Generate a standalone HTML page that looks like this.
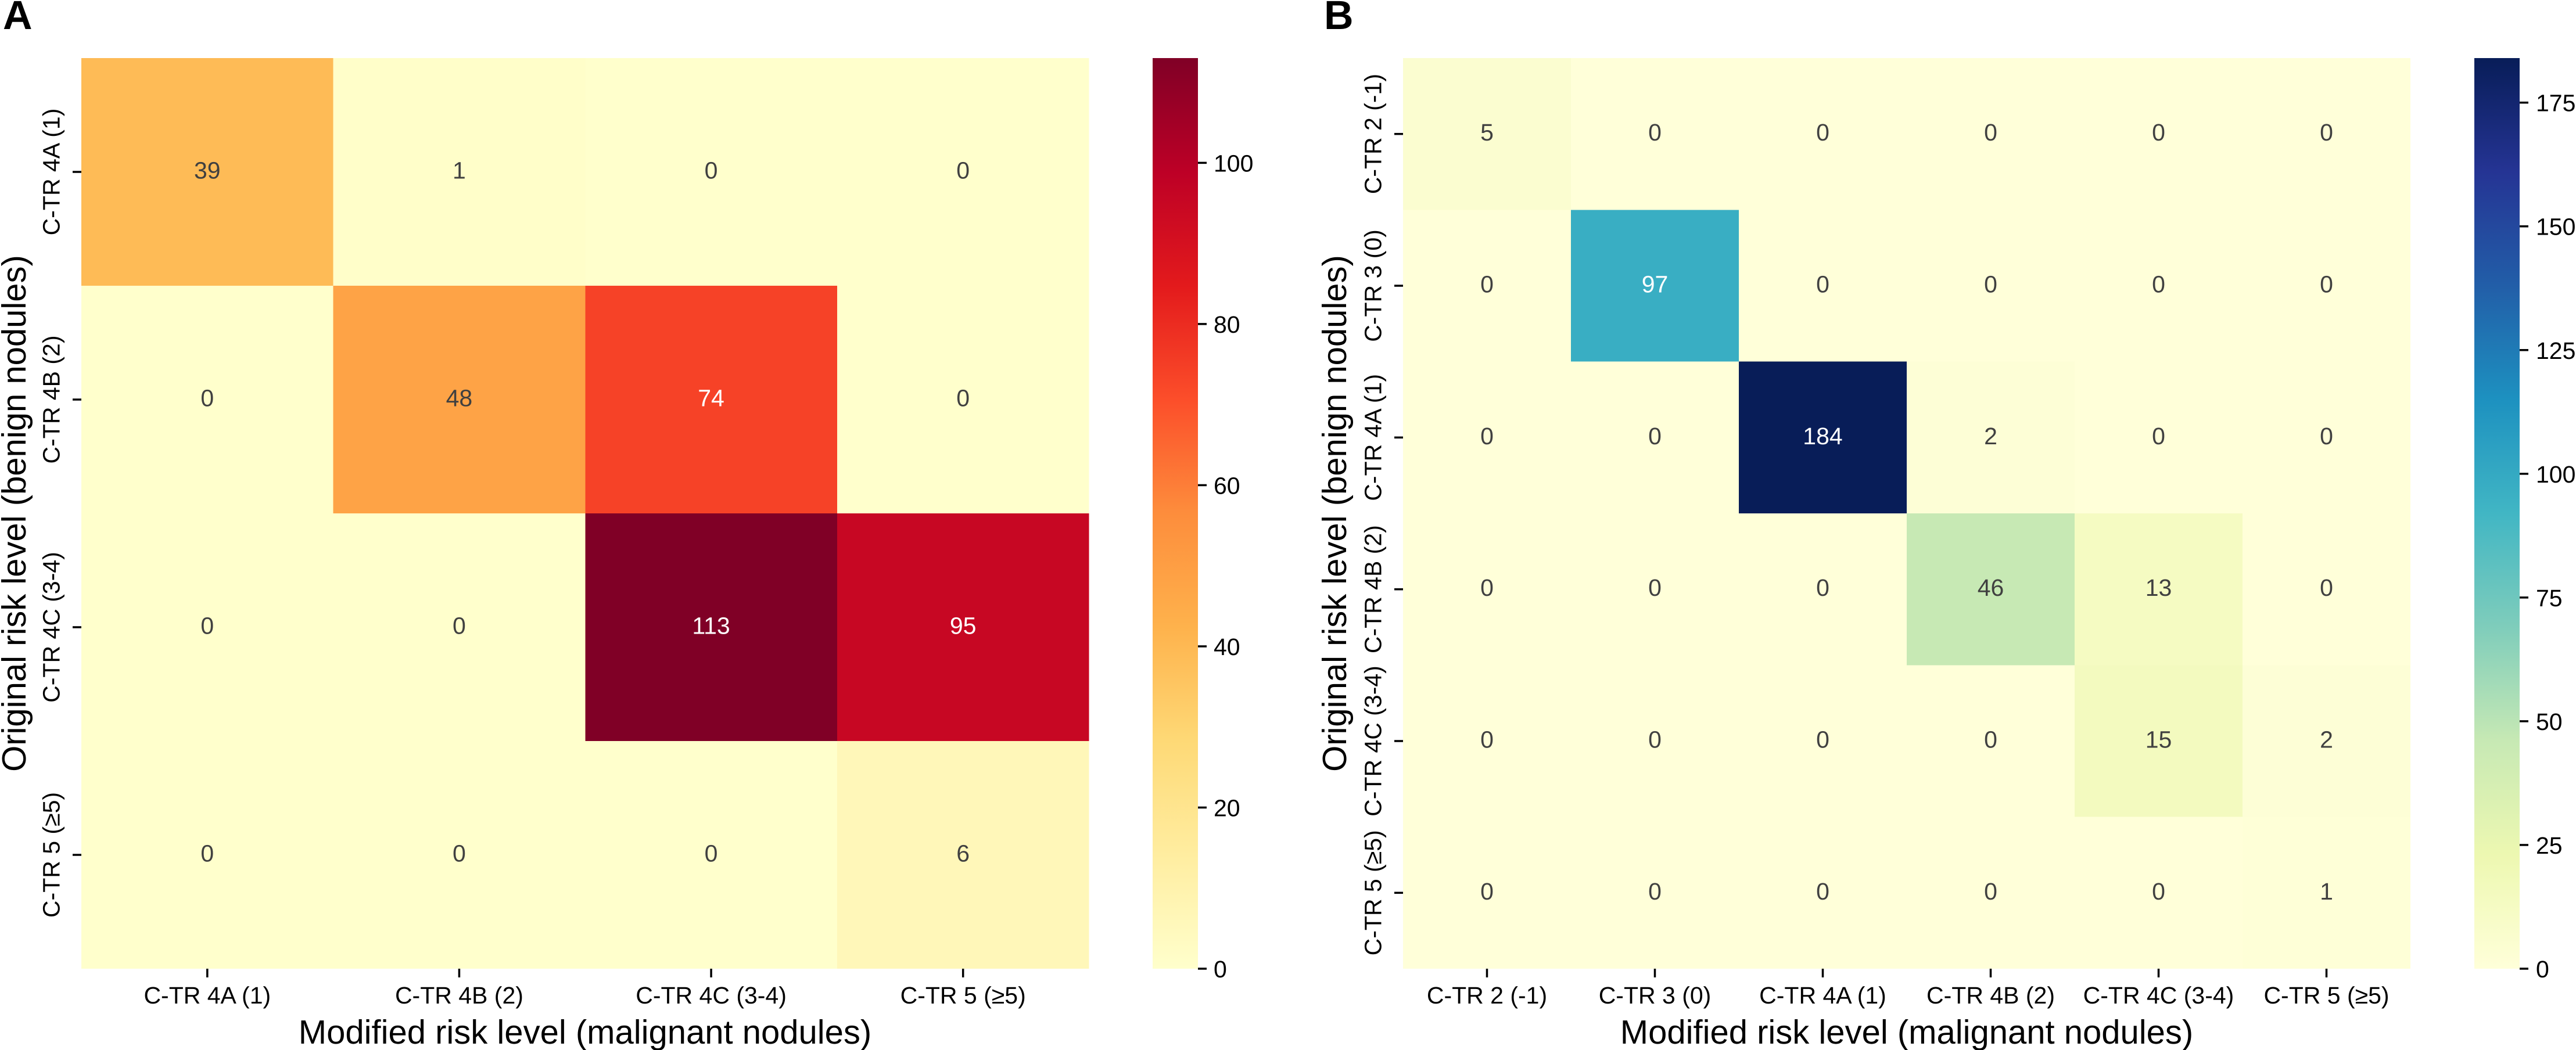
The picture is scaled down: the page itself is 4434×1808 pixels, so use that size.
<!DOCTYPE html>
<html lang="en">
<head>
<meta charset="utf-8">
<title>Risk level reclassification heatmaps</title>
<style>
  html, body { margin: 0; padding: 0; background: #ffffff; }
  body { width: 4434px; height: 1808px; overflow: hidden; }
  svg { display: block; }
  text { font-family: "Liberation Sans", "Noto Sans CJK SC", sans-serif; text-rendering: geometricPrecision; }
  .panel-letter { font-size: 70px; font-weight: 700; }
  .axis-title { font-size: 58px; text-anchor: middle; }
  .tick-label { font-size: 41px; }
  .cell-value { font-size: 41px; text-anchor: middle; }
</style>
</head>
<body>
<svg id="figure" width="4434" height="1808" viewBox="0 0 4434 1808">
  <rect x="0" y="0" width="4434" height="1808" fill="#ffffff"/>
  <defs id="gradient-defs"></defs>

  <text class="panel-letter" x="5" y="50" fill="#000000">A</text>
  <text class="panel-letter" x="2279" y="50" fill="#000000">B</text>

  <g id="panel-a"></g>
  <g id="panel-b"></g>

  <text class="axis-title" x="1007" y="1797" fill="#000000">Modified risk level (malignant nodules)</text>
  <text class="axis-title" transform="translate(44 884) rotate(-90)" fill="#000000">Original risk level (benign nodules)</text>
  <text class="axis-title" x="3282" y="1797" fill="#000000">Modified risk level (malignant nodules)</text>
  <text class="axis-title" transform="translate(2317 884) rotate(-90)" fill="#000000">Original risk level (benign nodules)</text>
</svg>

<script>
// ---- Panel A data ----
const panelARowLabels = ["C-TR 4A (1)", "C-TR 4B (2)", "C-TR 4C (3-4)", "C-TR 5 (≥5)"];
const panelAColLabels = ["C-TR 4A (1)", "C-TR 4B (2)", "C-TR 4C (3-4)", "C-TR 5 (≥5)"];
const panelARow1 = [39, 1, 0, 0];
const panelARow2 = [0, 48, 74, 0];
const panelARow3 = [0, 0, 113, 95];
const panelARow4 = [0, 0, 0, 6];
const panelAColorbarTicks = [0, 20, 40, 60, 80, 100];

// ---- Panel B data ----
const panelBRowLabels = ["C-TR 2 (-1)", "C-TR 3 (0)", "C-TR 4A (1)", "C-TR 4B (2)", "C-TR 4C (3-4)", "C-TR 5 (≥5)"];
const panelBColLabels = ["C-TR 2 (-1)", "C-TR 3 (0)", "C-TR 4A (1)", "C-TR 4B (2)", "C-TR 4C (3-4)", "C-TR 5 (≥5)"];
const panelBRow1 = [5, 0, 0, 0, 0, 0];
const panelBRow2 = [0, 97, 0, 0, 0, 0];
const panelBRow3 = [0, 0, 184, 2, 0, 0];
const panelBRow4 = [0, 0, 0, 46, 13, 0];
const panelBRow5 = [0, 0, 0, 0, 15, 2];
const panelBRow6 = [0, 0, 0, 0, 0, 1];
const panelBColorbarTicks = [0, 25, 50, 75, 100, 125, 150, 175];

// ---- Colour maps (ColorBrewer) ----
const ylOrRdStops = ["#ffffcc", "#ffeda0", "#fed976", "#feb24c", "#fd8d3c", "#fc4e2a", "#e31a1c", "#bd0026", "#800026"];
const ylGnBuStops = ["#ffffd9", "#edf8b1", "#c7e9b4", "#7fcdbb", "#41b6c4", "#1d91c0", "#225ea8", "#253494", "#081d58"];

const figureSvg = document.getElementById("figure");
const svgNamespace = figureSvg.namespaceURI;

function hexToRgb(hex) {
  return [parseInt(hex.slice(1, 3), 16), parseInt(hex.slice(3, 5), 16), parseInt(hex.slice(5, 7), 16)];
}

function sampleColormap(stops, t) {
  const clamped = Math.max(0, Math.min(1, t));
  const pos = clamped * (stops.length - 1);
  const i = Math.min(Math.floor(pos), stops.length - 2);
  const f = pos - i;
  const a = hexToRgb(stops[i]);
  const b = hexToRgb(stops[i + 1]);
  return [0, 1, 2].map(function (k) { return Math.round(a[k] + (b[k] - a[k]) * f); });
}

function relativeLuminance(rgb) {
  const lin = rgb.map(function (v) {
    const s = v / 255;
    return s <= 0.03928 ? s / 12.92 : Math.pow((s + 0.055) / 1.055, 2.4);
  });
  return 0.2126 * lin[0] + 0.7152 * lin[1] + 0.0722 * lin[2];
}

function makeNode(tag, attrs, parent) {
  const node = document.createElementNS(svgNamespace, tag);
  Object.keys(attrs).forEach(function (k) { node.setAttribute(k, String(attrs[k])); });
  parent.appendChild(node);
  return node;
}

function renderPanel(cfg) {
  const root = document.getElementById(cfg.id);
  const nRows = cfg.rows.length;
  const nCols = cfg.cols.length;
  const maxValue = Math.max.apply(null, cfg.rows.map(function (r) { return Math.max.apply(null, r); }));

  // Axis functions
  const xBand = function (c) { return cfg.left + c * (cfg.right - cfg.left) / nCols; };
  const yBand = function (r) { return cfg.top + r * (cfg.bottom - cfg.top) / nRows; };
  const xCenter = function (c) { return xBand(c + 0.5); };
  const yCenter = function (r) { return yBand(r + 0.5); };
  const colorbarY = function (v) { return cfg.bottom - (v / maxValue) * (cfg.bottom - cfg.top); };

  // Cells
  cfg.rows.forEach(function (rowValues, r) {
    rowValues.forEach(function (value, c) {
      const rgb = sampleColormap(cfg.cmap, value / maxValue);
      const cell = makeNode("rect", {
        x: xBand(c), y: yBand(r),
        width: xBand(c + 1) - xBand(c), height: yBand(r + 1) - yBand(r),
        fill: "rgb(" + rgb.join(",") + ")",
        "shape-rendering": "crispEdges"
      }, root);
      
      
    });
  });

  // Printed values
  cfg.rows.forEach(function (rowValues, r) {
    rowValues.forEach(function (value, c) {
      const rgb = sampleColormap(cfg.cmap, value / maxValue);
      const valueText = makeNode("text", {
        x: xCenter(c), y: yCenter(r) + 11.5, "class": "cell-value",
        fill: relativeLuminance(rgb) < 0.408 ? "#ffffff" : "#404040"
      }, root);
      valueText.textContent = String(value);
      
      
    });
  });

  // X axis ticks and labels
  cfg.cols.forEach(function (name, c) {
    const xTick = makeNode("rect", { x: xCenter(c) - 1.75, y: cfg.bottom, width: 3.5, height: 15, fill: "#000000" }, root);
    
    
    const xLabel = makeNode("text", { x: xCenter(c), y: 1728, "class": "tick-label", "text-anchor": "middle", fill: "#000000" }, root);
    xLabel.textContent = name;
    
    
  });

  // Y axis ticks and labels
  cfg.rowLabels.forEach(function (name, r) {
    const yTick = makeNode("rect", { x: cfg.left - 15, y: yCenter(r) - 1.75, width: 15, height: 3.5, fill: "#000000" }, root);
    
    
    const yLabel = makeNode("text", {
      "class": "tick-label", "text-anchor": "middle", fill: "#000000",
      transform: "translate(" + (cfg.left - 37.5) + " " + yCenter(r) + ") rotate(-90)"
    }, root);
    yLabel.textContent = name;
    
    
  });

  // Colorbar
  const defsNode = document.getElementById("gradient-defs");
  const gradient = makeNode("linearGradient", { id: cfg.prefix + "-gradient", x1: 0, y1: 1, x2: 0, y2: 0 }, defsNode);
  cfg.cmap.forEach(function (color, i) {
    makeNode("stop", { offset: i / (cfg.cmap.length - 1), "stop-color": color }, gradient);
  });
  const bar = makeNode("rect", {
    x: cfg.barLeft, y: cfg.top, width: cfg.barRight - cfg.barLeft, height: cfg.bottom - cfg.top,
    fill: "url(#" + cfg.prefix + "-gradient)"
  }, root);
  
  

  cfg.barTicks.forEach(function (value) {
    const barTick = makeNode("rect", { x: cfg.barRight, y: colorbarY(value) - 1.75, width: 15, height: 3.5, fill: "#000000" }, root);
    
    
    const barLabel = makeNode("text", { x: cfg.barRight + cfg.barLabelGap, y: colorbarY(value) + 15, "class": "tick-label", fill: "#000000" }, root);
    barLabel.textContent = String(value);
    
    
  });
}

renderPanel({
  id: "panel-a", prefix: "panel-a",
  rows: [panelARow1, panelARow2, panelARow3, panelARow4],
  rowLabels: panelARowLabels, cols: panelAColLabels,
  barTicks: panelAColorbarTicks, cmap: ylOrRdStops,
  left: 140, right: 1874.5, top: 100, bottom: 1668,
  barLeft: 1984, barRight: 2062, barLabelGap: 27
});

renderPanel({
  id: "panel-b", prefix: "panel-b",
  rows: [panelBRow1, panelBRow2, panelBRow3, panelBRow4, panelBRow5, panelBRow6],
  rowLabels: panelBRowLabels, cols: panelBColLabels,
  barTicks: panelBColorbarTicks, cmap: ylGnBuStops,
  left: 2415, right: 4149, top: 100, bottom: 1668,
  barLeft: 4259, barRight: 4337, barLabelGap: 28
});
</script>
</body>
</html>
